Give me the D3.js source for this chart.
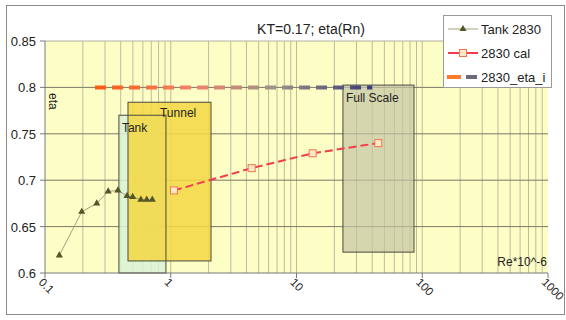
<!DOCTYPE html>
<html lang="en">
<head>
    <meta charset="UTF-8">
    <title>KT=0.17; eta(Rn)</title>
    <script src="https://d3js.org/d3.v7.min.js"></script>
    <style>
        body { margin: 0; background: #fff; font-family: "Liberation Sans", Arial, sans-serif; }
        svg text { font-family: "Liberation Sans", Arial, sans-serif; fill: #222; }
    </style>
</head>
<body>
<svg id="chart" width="566" height="320"></svg>
<script>
    // Tank 2830 measurements (Re*10^-6, eta)
    const tankRe  = [0.130, 0.196, 0.258, 0.318, 0.380, 0.449, 0.498, 0.579, 0.644, 0.713];
    const tankEta = [0.619, 0.666, 0.675, 0.688, 0.689, 0.683, 0.682, 0.679, 0.679, 0.679];

    // 2830 cal
    const calRe  = [1.06, 4.40, 13.45, 44.7];
    const calEta = [0.689, 0.713, 0.729, 0.740];

    // 2830_eta_i (constant)
    const etaIRe  = [0.25, 40];
    const etaIEta = [0.8, 0.8];

    // Re ranges for the shaded boxes
    const boxNames  = ["Tank", "Tunnel", "Full Scale"];
    const boxRe     = [[0.387, 0.916], [0.457, 2.09], [23.4, 86]];
    const boxEta    = [[0.6, 0.770], [0.613, 0.784], [0.6225, 0.8025]];
    const boxFill   = ["#d8f2d4", "#f4d848", "#c4c4a4"];
    const boxAlpha  = [0.85, 0.88, 0.7];

    const xTicks = [0.1, 1, 10, 100, 1000];
    const yTicks = [0.6, 0.65, 0.7, 0.75, 0.8, 0.85];

    const svg = d3.select("#chart");

    // outer frame
    svg.append("rect")
        .attr("x", 6.5).attr("y", 5.5)
        .attr("width", 558).attr("height", 309)
        .attr("fill", "#fff").attr("stroke", "#8a8a8a");

    const x = d3.scaleLog().domain([0.1, 1000]).range([45, 548]);
    const y = d3.scaleLinear().domain([0.6, 0.85]).range([273, 41]);

    // plot background
    svg.append("rect")
        .attr("x", x(0.1)).attr("y", y(0.85))
        .attr("width", x(1000) - x(0.1)).attr("height", y(0.6) - y(0.85))
        .attr("fill", "#fdfdc6");

    // vertical grid at minor log ticks
    const vGrid = [];
    [0.1, 1, 10, 100].forEach(d => {
        for (let k = 1; k <= 9; k++) if (!(d === 0.1 && k === 1)) vGrid.push(d * k);
    });
    svg.append("g").selectAll("line").data(vGrid).join("line")
        .attr("x1", d => x(d)).attr("x2", d => x(d))
        .attr("y1", y(0.6)).attr("y2", y(0.85))
        .attr("stroke", "#bdbd9c").attr("stroke-width", 1);

    // horizontal grid
    svg.append("g").selectAll("line").data(yTicks.slice(1)).join("line")
        .attr("x1", x(0.1)).attr("x2", x(1000))
        .attr("y1", d => y(d)).attr("y2", d => y(d))
        .attr("stroke", d => d === 0.85 ? "#b0b0a0" : "#7a7a68").attr("stroke-width", 1);

    // boxes: fills first, outlines on top
    const boxes = svg.append("g");
    const boxAttrs = (sel, i) => sel
        .attr("x", x(boxRe[i][0])).attr("y", y(boxEta[i][1]))
        .attr("width", x(boxRe[i][1]) - x(boxRe[i][0]))
        .attr("height", y(boxEta[i][0]) - y(boxEta[i][1]));
    boxNames.forEach((name, i) => {
        boxAttrs(boxes.append("rect"), i)
            .attr("fill", boxFill[i]).attr("fill-opacity", boxAlpha[i]);
    });
    boxNames.forEach((name, i) => {
        boxAttrs(boxes.append("rect"), i)
            .attr("fill", "none").attr("stroke", "#4a4a40").attr("stroke-width", 1);
    });
    const labelDx = [3, 32, 3];
    const labelDy = [17, 15, 17];
    boxNames.forEach((name, i) => {
        boxes.append("text")
            .attr("x", x(boxRe[i][0]) + labelDx[i])
            .attr("y", y(boxEta[i][1]) + labelDy[i])
            .style("font-size", "12px")
            .text(name);
    });

    // axes lines
    svg.append("line").attr("x1", x(0.1)).attr("x2", x(0.1))
        .attr("y1", y(0.6)).attr("y2", y(0.85)).attr("stroke", "#7a7a7a");
    svg.append("line").attr("x1", x(0.1)).attr("x2", x(1000))
        .attr("y1", y(0.6)).attr("y2", y(0.6)).attr("stroke", "#7a7a7a");

    // y ticks
    const yAx = svg.append("g");
    yAx.selectAll("line").data(yTicks).join("line")
        .attr("x1", x(0.1) - 5).attr("x2", x(0.1))
        .attr("y1", d => y(d)).attr("y2", d => y(d)).attr("stroke", "#7a7a7a");
    yAx.selectAll("text").data(yTicks).join("text")
        .attr("x", 36).attr("y", d => y(d) + 5)
        .attr("text-anchor", "end").style("font-size", "13px")
        .text(d => d3.format("")(d));

    // x ticks
    const xAx = svg.append("g");
    xAx.selectAll("line").data(xTicks).join("line")
        .attr("x1", d => x(d)).attr("x2", d => x(d))
        .attr("y1", y(0.6)).attr("y2", y(0.6) + 5).attr("stroke", "#7a7a7a");
    xAx.selectAll("text").data(xTicks).join("text")
        .attr("transform", d => `translate(${x(d) - 7},${y(0.6) + 10}) rotate(45)`)
        .attr("text-anchor", "start").style("font-size", "11.5px")
        .text(d => String(d));

    // 2830_eta_i dashed line with gradient
    const grad = svg.append("defs").append("linearGradient")
        .attr("id", "etaGrad").attr("gradientUnits", "userSpaceOnUse")
        .attr("x1", x(etaIRe[0])).attr("x2", x(etaIRe[1]))
        .attr("y1", 0).attr("y2", 0);
    grad.append("stop").attr("offset", "0%").attr("stop-color", "#ff5a10");
    grad.append("stop").attr("offset", "35%").attr("stop-color", "#f4826a");
    grad.append("stop").attr("offset", "65%").attr("stop-color", "#9a9488");
    grad.append("stop").attr("offset", "100%").attr("stop-color", "#3a3a78");

    const etaIData = etaIRe.map((r, i) => [r, etaIEta[i]]);
    svg.append("path")
        .attr("d", d3.line().x(d => x(d[0])).y(d => y(d[1]))(etaIData))
        .attr("fill", "none").attr("stroke", "url(#etaGrad)")
        .attr("stroke-width", 4).attr("stroke-dasharray", "11,6");

    // Tank 2830 line + triangles
    const tri = d3.symbol(d3.symbolTriangle, 22)();
    const tankData = tankRe.map((r, i) => [r, tankEta[i]]);
    svg.append("path")
        .attr("d", d3.line().x(d => x(d[0])).y(d => y(d[1]))(tankData))
        .attr("fill", "none").attr("stroke", "#a0a080").attr("stroke-width", 1);
    svg.append("g").selectAll("path").data(tankData).join("path")
        .attr("transform", d => `translate(${x(d[0])},${y(d[1])})`)
        .attr("d", tri)
        .attr("fill", "#555528");

    // 2830 cal dashed line + open squares
    const calData = calRe.map((r, i) => [r, calEta[i]]);
    svg.append("path")
        .attr("d", d3.line().x(d => x(d[0])).y(d => y(d[1]))(calData))
        .attr("fill", "none").attr("stroke", "#f43c4a")
        .attr("stroke-width", 2).attr("stroke-dasharray", "8,4");
    svg.append("g").selectAll("rect").data(calData).join("rect")
        .attr("x", d => x(d[0]) - 3.5).attr("y", d => y(d[1]) - 3.5)
        .attr("width", 7).attr("height", 7)
        .attr("fill", "#fde8c8").attr("stroke", "#f07850").attr("stroke-width", 1);

    // title and axis labels
    svg.append("text").attr("x", 311).attr("y", 34)
        .attr("text-anchor", "middle").style("font-size", "14px")
        .text("KT=0.17; eta(Rn)");
    svg.append("text")
        .attr("transform", `translate(49,93) rotate(90)`)
        .style("font-size", "12px").text("eta");
    svg.append("text").attr("x", 547).attr("y", 266)
        .attr("text-anchor", "end").style("font-size", "12px")
        .text("Re*10^-6");

    // legend
    const lg = svg.append("g");
    lg.append("rect").attr("x", 443.5).attr("y", 15.5)
        .attr("width", 108).attr("height", 72)
        .attr("fill", "#fff").attr("stroke", "#9a9a9a");
    const ly = [29, 53, 77];
    lg.append("line").attr("x1", 448).attr("x2", 478).attr("y1", ly[0]).attr("y2", ly[0])
        .attr("stroke", "#a0a080");
    lg.append("path").attr("transform", `translate(463,${ly[0]})`)
        .attr("d", tri).attr("fill", "#555528");
    lg.append("line").attr("x1", 448).attr("x2", 478).attr("y1", ly[1]).attr("y2", ly[1])
        .attr("stroke", "#f43c4a").attr("stroke-width", 2);
    lg.append("rect").attr("x", 459.5).attr("y", ly[1] - 3.5).attr("width", 7).attr("height", 7)
        .attr("fill", "#fde8c8").attr("stroke", "#f07850");
    lg.append("line").attr("x1", 447).attr("x2", 461).attr("y1", ly[2]).attr("y2", ly[2])
        .attr("stroke", "#ff7a2a").attr("stroke-width", 4);
    lg.append("line").attr("x1", 466).attr("x2", 477).attr("y1", ly[2]).attr("y2", ly[2])
        .attr("stroke", "#6a6a78").attr("stroke-width", 4);
    const legendText = ["Tank 2830", "2830 cal", "2830_eta_i"];
    lg.selectAll("text.lt").data(legendText).join("text")
        .attr("class", "lt")
        .attr("x", 481).attr("y", (d, i) => ly[i] + 5)
        .style("font-size", "13px").text(d => d);
</script>
</body>
</html>
